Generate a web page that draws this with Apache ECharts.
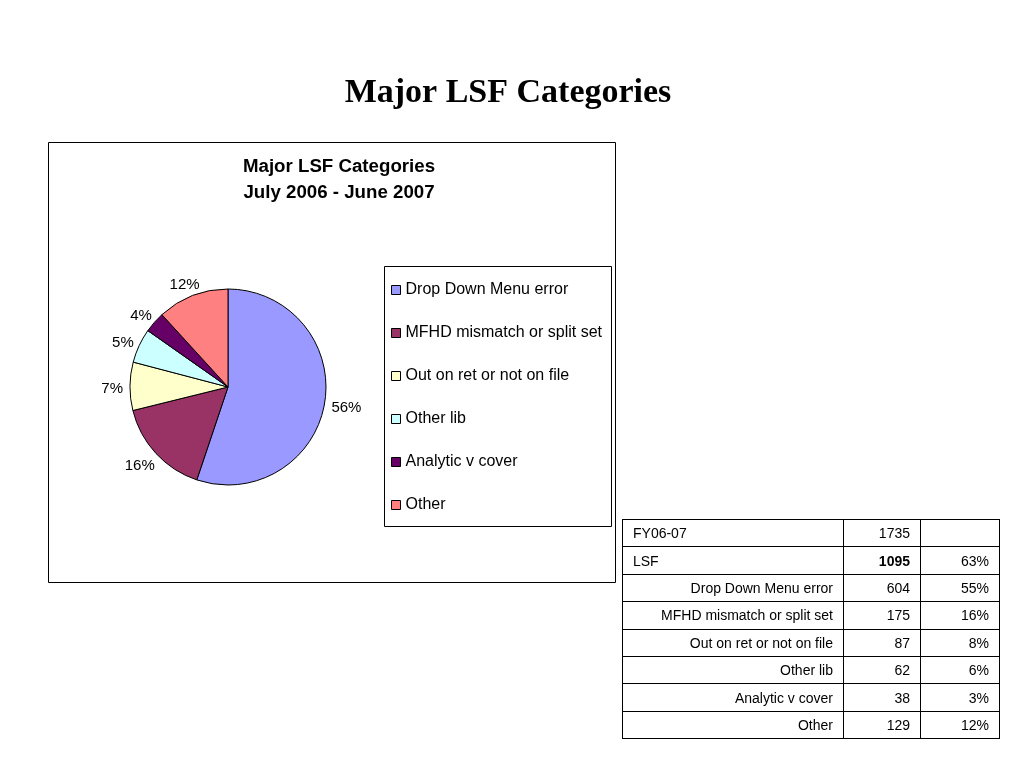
<!DOCTYPE html>
<html>
<head>
<meta charset="utf-8">
<script src="https://cdn.jsdelivr.net/npm/echarts@6/dist/echarts.min.js"></script>
<style>
  html, body { margin: 0; padding: 0; background: #fff; }
  #main { position: absolute; left: 0; top: 0; width: 1024px; height: 768px; }
  #summary {
    position: absolute; left: 622px; top: 519px; width: 378px;
    border-collapse: collapse; font-family: 'Liberation Sans', Arial, sans-serif; font-size: 14px;
  }
  #summary td { border: 1px solid #000; height: 26.4px; padding: 0 10px; text-align: right; }
  #summary td.head { text-align: left; }
</style>
</head>
<body>
<div id="main"></div>
<table id="summary"></table>
<script>
const categories = ['Drop Down Menu error', 'MFHD mismatch or split set', 'Out on ret or not on file', 'Other lib', 'Analytic v cover', 'Other'];
const counts = [604, 175, 87, 62, 38, 129];
// percentages as printed on the pie
const pieLabels = ['56%', '16%', '7%', '5%', '4%', '12%'];
const colors = ['#9999FF', '#993366', '#FFFFCC', '#CCFFFF', '#660066', '#FF8080'];

const tableLabels = ['FY06-07', 'LSF'].concat(categories);
const tableCounts = [1735, 1095].concat(counts);
const tablePercents = ['', '63%', '55%', '16%', '8%', '6%', '3%', '12%'];

const FONT = "'Liberation Sans', Arial, sans-serif";
const PIE_CENTER = [228, 387];
const PIE_RADIUS = 98;
const LABEL_GAP = 7;

// summary table
const table = document.getElementById('summary');
tableLabels.forEach((label, i) => {
  const tr = document.createElement('tr');
  const head = i < 2 ? ' class="head"' : '';
  const count = i === 1 ? `<b>${tableCounts[i]}</b>` : tableCounts[i];
  tr.innerHTML = `<td${head} style="width:200px">${label}</td><td style="width:56px">${count}</td><td>${tablePercents[i]}</td>`;
  table.appendChild(tr);
});

// put each label just outside the pie, along the slice's middle angle (like Excel does)
const total = counts.reduce((a, b) => a + b, 0);
const midAngle = (i) => {
  const before = counts.slice(0, i).reduce((a, b) => a + b, 0);
  return ((before + counts[i] / 2) / total) * Math.PI * 2;
};
const placeLabel = (params) => {
  const a = midAngle(params.dataIndex);
  const dx = Math.sin(a);
  const dy = -Math.cos(a);
  const { width, height } = params.labelRect;
  return {
    x: PIE_CENTER[0] + dx * (PIE_RADIUS + LABEL_GAP) + (dx * width) / 2,
    y: PIE_CENTER[1] + dy * (PIE_RADIUS + LABEL_GAP) + (dy * height) / 2 + 3,
    align: 'center',
    verticalAlign: 'middle',
  };
};

const chart = echarts.init(document.getElementById('main'));
chart.setOption({
  animation: false,
  color: colors,
  graphic: [
    {
      type: 'text', x: 508, y: 93,
      style: {
        text: 'Major LSF Categories', align: 'center', verticalAlign: 'middle',
        font: "bold 34px 'Liberation Serif', 'Times New Roman', serif", fill: '#000',
      },
    },
    {
      type: 'text', x: 339, y: 167,
      style: { text: 'Major LSF Categories', align: 'center', verticalAlign: 'middle', font: `bold 18.7px ${FONT}`, fill: '#000' },
    },
    {
      type: 'text', x: 339, y: 193,
      style: { text: 'July 2006 - June 2007', align: 'center', verticalAlign: 'middle', font: `bold 18.7px ${FONT}`, fill: '#000' },
    },
    { type: 'rect', shape: { x: 48.5, y: 142.5, width: 567, height: 440 }, style: { fill: 'none', stroke: '#000', lineWidth: 1 }, z: -1 },
    { type: 'rect', shape: { x: 384.5, y: 266.5, width: 227, height: 260 }, style: { fill: '#fff', stroke: '#000', lineWidth: 1 }, z: -1 },
  ],
  legend: {
    orient: 'vertical',
    left: 391, top: 282,
    padding: 0,
    itemGap: 27,
    itemWidth: 9, itemHeight: 9,
    icon: 'rect',
    itemStyle: { borderColor: '#000', borderWidth: 1 },
    textStyle: { fontFamily: FONT, fontSize: 16, color: '#000' },
    selectedMode: false,
    data: categories,
  },
  series: [
    {
      type: 'pie',
      center: PIE_CENTER,
      radius: PIE_RADIUS,
      startAngle: 90,
      clockwise: true,
      itemStyle: { borderColor: '#000', borderWidth: 1 },
      label: {
        show: true,
        position: 'outside',
        fontFamily: FONT, fontSize: 15, color: '#000',
        formatter: (p) => pieLabels[p.dataIndex],
      },
      labelLine: { show: false },
      labelLayout: placeLabel,
      emphasis: { disabled: true },
      data: categories.map((name, i) => ({ name, value: counts[i] })),
    },
  ],
});
</script>
</body>
</html>
